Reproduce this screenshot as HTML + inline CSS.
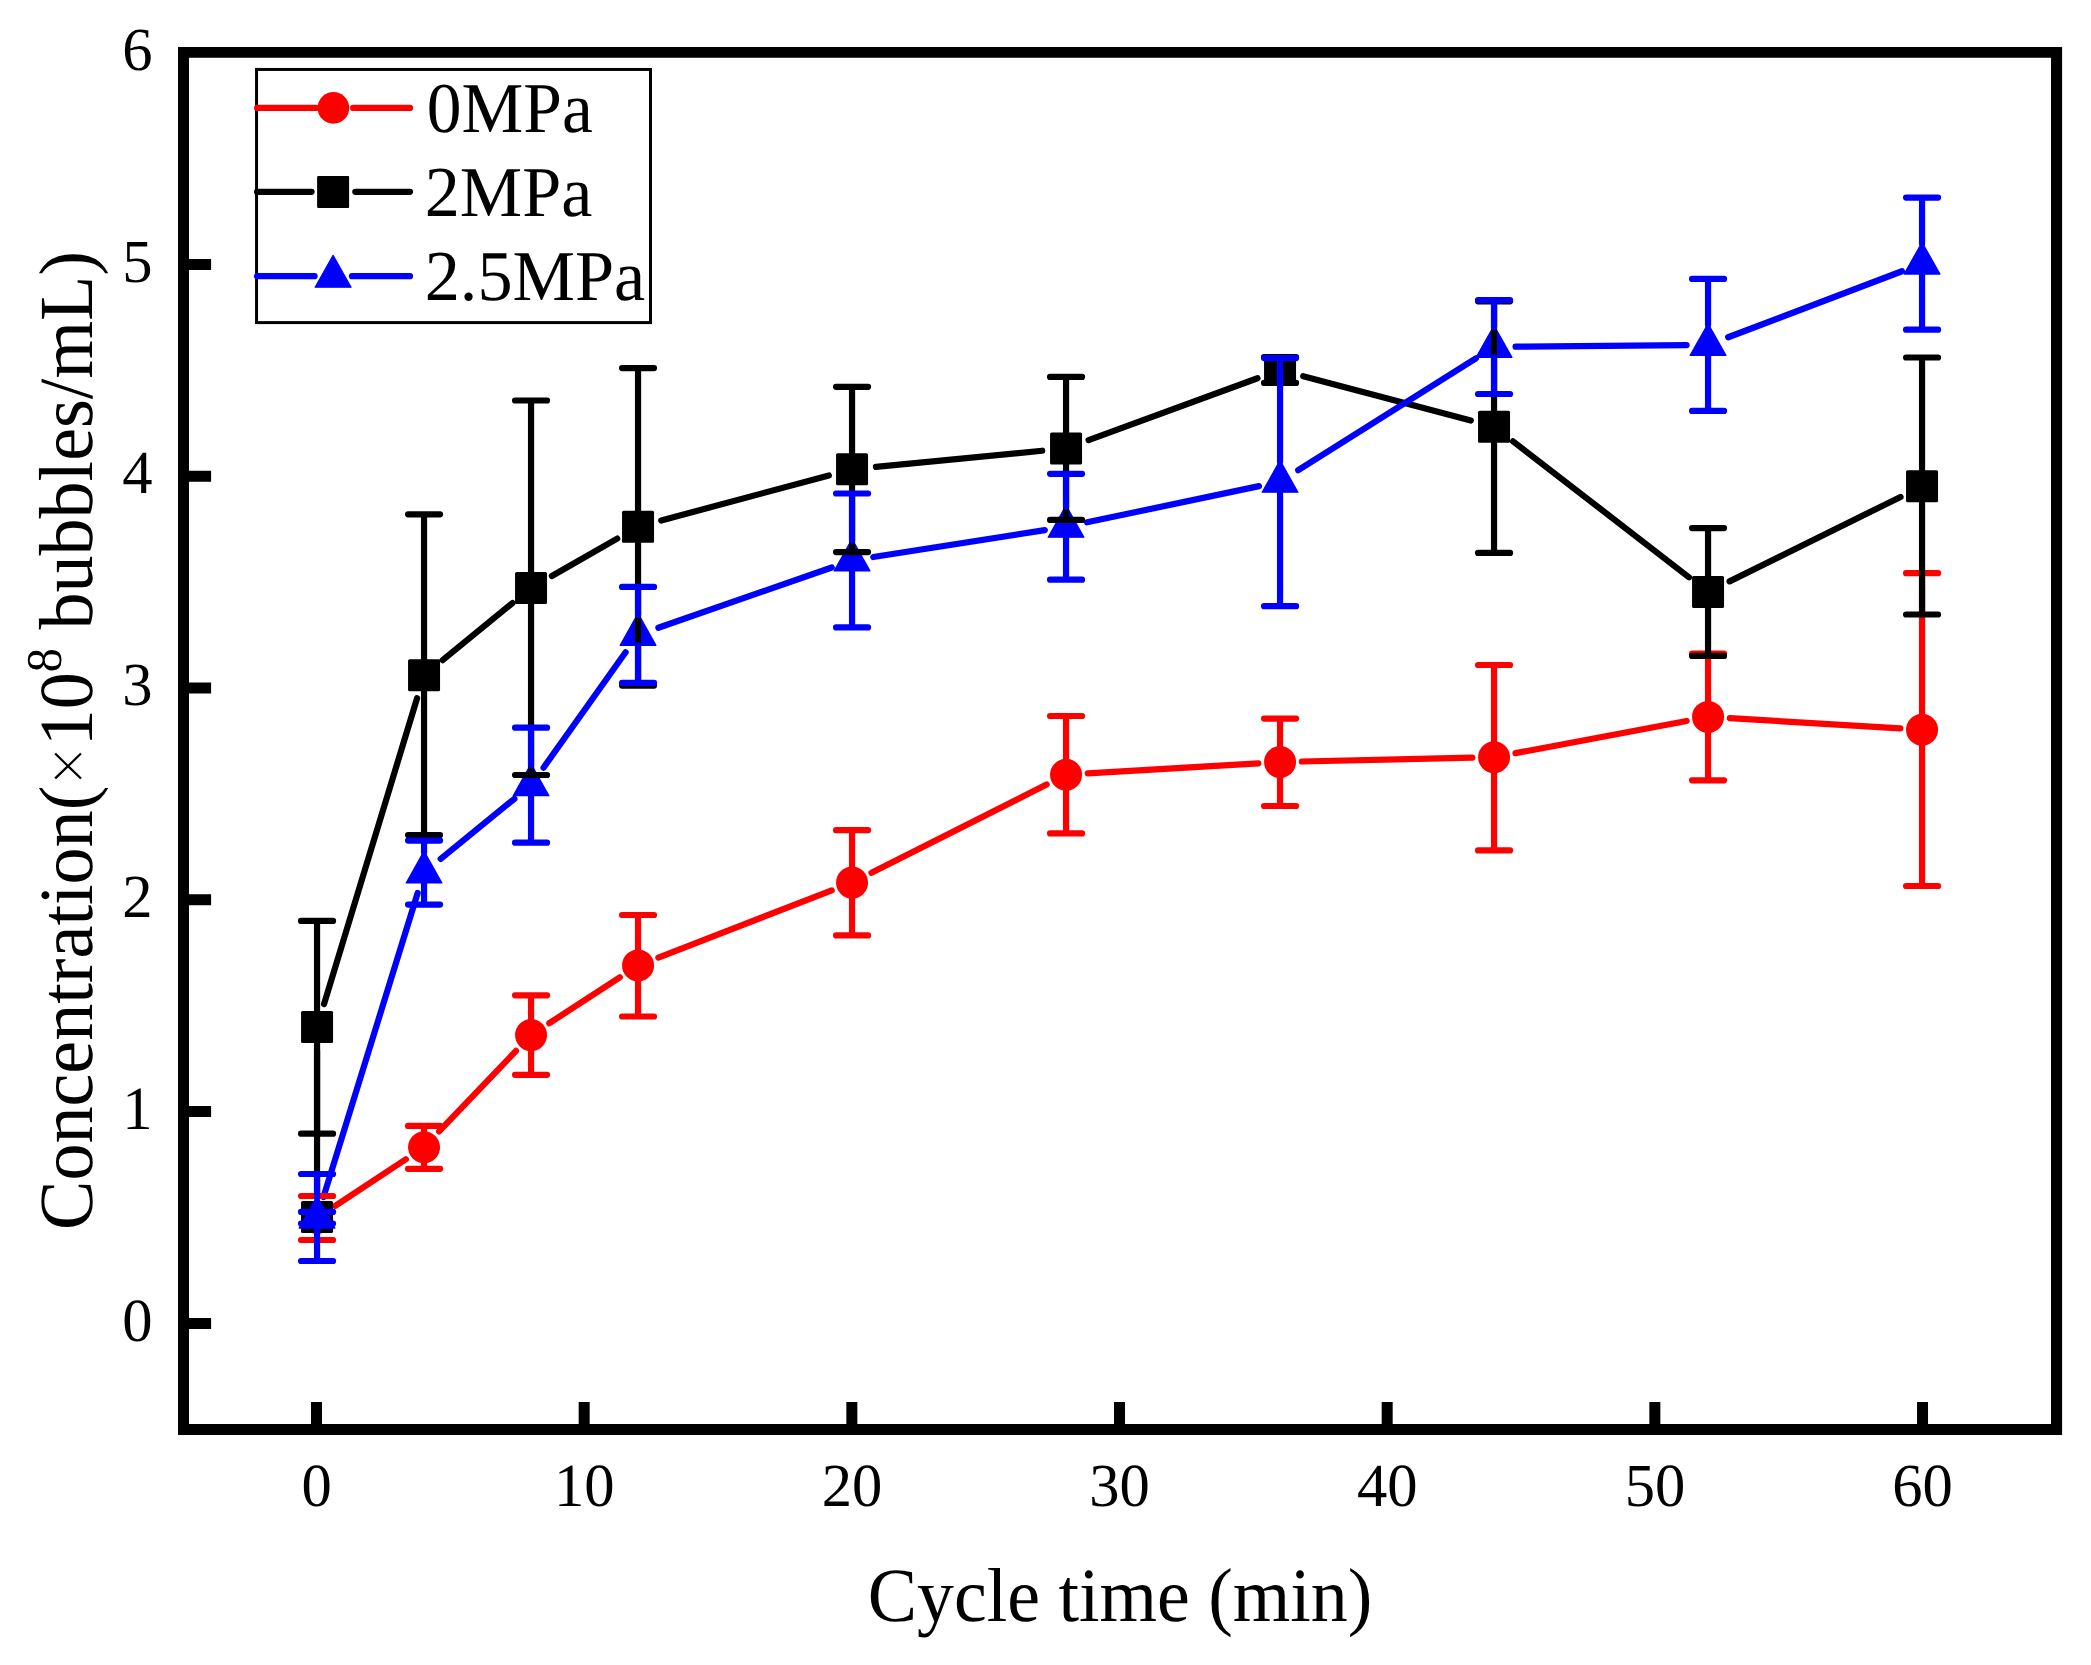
<!DOCTYPE html>
<html lang="en"><head><meta charset="utf-8"><title>Concentration vs cycle time</title>
<style>
html,body{margin:0;padding:0;background:#fff}
svg{display:block}
text{font-family:"Liberation Serif","Times New Roman",serif;fill:#000;text-rendering:geometricPrecision}
</style></head><body>
<svg width="2091" height="1665" viewBox="0 0 2091 1665">
<rect width="2091" height="1665" fill="#fff"/>
<path fill="#000" fill-rule="evenodd" d="M178 47H2062.1V1435H178ZM189 57.8H2051V1424H189Z"/>
<path d="M316.5 1401.9V1426M584.17 1401.9V1426M851.84 1401.9V1426M1119.51 1401.9V1426M1387.18 1401.9V1426M1654.85 1401.9V1426M1922.52 1401.9V1426M187 1323.4H211.1M187 1111.6H211.1M187 899.8H211.1M187 688H211.1M187 476.2H211.1M187 264.4H211.1" stroke="#000" stroke-width="11" fill="none"/>
<g id="series">
<path d="M335.24 1205.88L405.86 1159.22M439.1 1131.43L516 1050.87M549.32 1023.2L619.78 977.3M658.38 957.53L831.72 890.47M871.52 872.79L1046.58 784.51M1087.81 773.41L1258.29 763.29M1301.84 761.51L1472.26 757.69M1515.47 753.17L1686.63 720.93M1729.81 718.2L1900.29 728.4" stroke="#f00" stroke-width="6.2" stroke-linecap="round" fill="none"/>
<g fill="#f00"><circle cx="317.05" cy="1217.9" r="16"/><circle cx="424.05" cy="1147.2" r="16"/><circle cx="531.05" cy="1035.1" r="16"/><circle cx="638.05" cy="965.4" r="16"/><circle cx="852.05" cy="882.6" r="16"/><circle cx="1066.05" cy="774.7" r="16"/><circle cx="1280.05" cy="762" r="16"/><circle cx="1494.05" cy="757.2" r="16"/><circle cx="1708.05" cy="716.9" r="16"/><circle cx="1922.05" cy="729.7" r="16"/></g>
<path d="M317.05 1192.9L317.05 1051.1M324.03 1004.14L417.07 698.26M442.64 660.12L512.46 603.08M551.88 575.98L617.22 538.62M661.23 520.47L828.87 475.43M875.94 466.88L1042.16 450.72M1088.59 440.14L1257.51 378.26M1303.25 376.15L1470.85 420.55M1513.04 441.37L1689.06 577.33M1729.57 581.37L1900.53 496.93" stroke="#000" stroke-width="6.2" stroke-linecap="round" fill="none"/>
<g fill="#000"><rect x="301.05" y="1200.9" width="32" height="32" rx="1.5"/><rect x="301.05" y="1011.1" width="32" height="32" rx="1.5"/><rect x="408.05" y="659.3" width="32" height="32" rx="1.5"/><rect x="515.05" y="571.9" width="32" height="32" rx="1.5"/><rect x="622.05" y="510.7" width="32" height="32" rx="1.5"/><rect x="836.05" y="453.2" width="32" height="32" rx="1.5"/><rect x="1050.05" y="432.4" width="32" height="32" rx="1.5"/><rect x="1264.05" y="354" width="32" height="32" rx="1.5"/><rect x="1478.05" y="410.7" width="32" height="32" rx="1.5"/><rect x="1692.05" y="576" width="32" height="32" rx="1.5"/><rect x="1906.05" y="470.3" width="32" height="32" rx="1.5"/></g>
<path d="M323.42 1197.06L417.68 893.04M440.71 858.91L514.39 798.79M543.51 767.68L625.59 652.32M658.36 627.74L831.74 567.46M873.29 557.06L1044.81 530.09M1087.09 522.32L1259.01 486.13M1298.24 470.24L1475.86 358.36M1515.55 346.7L1686.55 345.1M1728.15 337.26L1901.95 271.24" stroke="#00f" stroke-width="6.2" stroke-linecap="round" fill="none"/>
<g fill="#00f" stroke="#00f" stroke-width="1.2" stroke-linejoin="round"><path d="M317.05 1196.2L334.95 1228.1H299.15Z"/><path d="M424.05 851.1L441.95 883H406.15Z"/><path d="M531.05 763.8L548.95 795.7H513.15Z"/><path d="M638.05 613.4L655.95 645.3H620.15Z"/><path d="M852.05 539L869.95 570.9H834.15Z"/><path d="M1066.05 505.35L1083.95 537.25H1048.15Z"/><path d="M1280.05 460.3L1297.95 492.2H1262.15Z"/><path d="M1494.05 325.5L1511.95 357.4H1476.15Z"/><path d="M1708.05 323.5L1725.95 355.4H1690.15Z"/><path d="M1922.05 242.2L1939.95 274.1H1904.15Z"/></g>
</g>
<g id="errors" fill="none" stroke-width="6.2" stroke-linecap="round">
<path stroke="#f00" d="M301.05 1196H333.05M301.05 1240H333.05M424.05 1125.9V1131.2M424.05 1163.2V1168.8M408.05 1125.9H440.05M408.05 1168.8H440.05M531.05 995.3V1019.1M531.05 1051.1V1074.8M515.05 995.3H547.05M515.05 1074.8H547.05M638.05 915V949.4M638.05 981.4V1016.5M622.05 915H654.05M622.05 1016.5H654.05M852.05 830.2V866.6M852.05 898.6V935.4M836.05 830.2H868.05M836.05 935.4H868.05M1066.05 716V758.7M1066.05 790.7V833.4M1050.05 716H1082.05M1050.05 833.4H1082.05M1280.05 718.6V746M1280.05 778V806M1264.05 718.6H1296.05M1264.05 806H1296.05M1494.05 665V741.2M1494.05 773.2V850.4M1478.05 665H1510.05M1478.05 850.4H1510.05M1708.05 653.5V700.9M1708.05 732.9V780.3M1692.05 653.5H1724.05M1692.05 780.3H1724.05M1922.05 573.2V713.7M1922.05 745.7V886M1906.05 573.2H1938.05M1906.05 886H1938.05"/>
<path stroke="#000" d="M317.05 920.9V1133.7M301.05 920.9H333.05M301.05 1133.7H333.05M424.05 514.3V835.05M408.05 514.3H440.05M408.05 835.05H440.05M531.05 400.5V775M515.05 400.5H547.05M515.05 775H547.05M638.05 368.1V685.6M622.05 368.1H654.05M622.05 685.6H654.05M852.05 386.8V552.1M836.05 386.8H868.05M836.05 552.1H868.05M1066.05 376.9V519.9M1050.05 376.9H1082.05M1050.05 519.9H1082.05M1280.05 357.2V382.9M1264.05 357.2H1296.05M1264.05 382.9H1296.05M1494.05 301.3V552.9M1478.05 301.3H1510.05M1478.05 552.9H1510.05M1708.05 528.1V655.9M1692.05 528.1H1724.05M1692.05 655.9H1724.05M1922.05 357.5V614.5M1906.05 357.5H1938.05M1906.05 614.5H1938.05"/>
<path stroke="#00f" d="M317.05 1174V1197.8M317.05 1228.3V1261M301.05 1174H333.05M301.05 1261H333.05M424.05 840.6V852.7M424.05 883.2V904.6M408.05 840.6H440.05M408.05 904.6H440.05M531.05 727.7V765.4M531.05 795.9V842.7M515.05 727.7H547.05M515.05 842.7H547.05M638.05 586.9V615M638.05 645.5V682.9M622.05 586.9H654.05M622.05 682.9H654.05M852.05 493.5V540.6M852.05 571.1V627.4M836.05 493.5H868.05M836.05 627.4H868.05M1066.05 473.8V506.95M1066.05 537.45V579.7M1050.05 473.8H1082.05M1050.05 579.7H1082.05M1280.05 358.1V461.9M1280.05 492.4V606.2M1264.05 358.1H1296.05M1264.05 606.2H1296.05M1494.05 300.2V327.1M1494.05 357.6V394M1478.05 300.2H1510.05M1478.05 394H1510.05M1708.05 278.9V325.1M1708.05 355.6V410.9M1692.05 278.9H1724.05M1692.05 410.9H1724.05M1922.05 197.6V243.8M1922.05 274.3V329.7M1906.05 197.6H1938.05M1906.05 329.7H1938.05M301.05 1211.9H333.05M301.05 1223.5H333.05"/>
</g>
<g id="legend">
<rect x="256.55" y="69.45" width="393.95" height="253.15" fill="#fff" stroke="#000" stroke-width="3"/>
<path d="M257 107.9H316M353.1 107.9H410" stroke="#f00" stroke-width="6.2" stroke-linecap="round" fill="none"/>
<path d="M257 191.8H311.6M355.3 191.8H410" stroke="#000" stroke-width="6.2" stroke-linecap="round" fill="none"/>
<path d="M257 276.2H314.6M352 276.2H410" stroke="#00f" stroke-width="6.2" stroke-linecap="round" fill="none"/>
<circle cx="333.4" cy="107.9" r="15.8" fill="#f00"/>
<rect x="317.1" y="175.9" width="32" height="32.1" rx="1" fill="#000"/>
<path d="M333.1 255.3L351.1 287.2H315.1Z" fill="#00f" stroke="#00f" stroke-width="1.2" stroke-linejoin="round"/>
<g font-size="71.6">
<text transform="translate(426.8 132) scale(0.9706 1)">0MPa</text>
<text transform="translate(424.7 216.1) scale(0.9796 1)">2MPa</text>
<text transform="translate(424.7 300.3) scale(0.981 1)">2.5MPa</text>
</g></g>
<g font-size="61.2" text-anchor="middle">
<text transform="translate(316.6 1506) scale(0.99 1)">0</text>
<text transform="translate(584.27 1506) scale(0.99 1)">10</text>
<text transform="translate(851.94 1506) scale(0.99 1)">20</text>
<text transform="translate(1119.61 1506) scale(0.99 1)">30</text>
<text transform="translate(1387.28 1506) scale(0.99 1)">40</text>
<text transform="translate(1654.95 1506) scale(0.99 1)">50</text>
<text transform="translate(1922.62 1506) scale(0.99 1)">60</text>
</g>
<g font-size="61.2" text-anchor="end">
<text transform="translate(152.5 1340.5) scale(0.99 1)">0</text>
<text transform="translate(152.5 1128.7) scale(0.99 1)">1</text>
<text transform="translate(152.5 916.9) scale(0.99 1)">2</text>
<text transform="translate(152.5 705.1) scale(0.99 1)">3</text>
<text transform="translate(152.5 493.3) scale(0.99 1)">4</text>
<text transform="translate(152.5 281.5) scale(0.99 1)">5</text>
<text transform="translate(152.5 69.7) scale(0.99 1)">6</text>
</g>
<text transform="translate(1120 1621) scale(0.9654 1)" font-size="76.5" text-anchor="middle">Cycle time (min)</text>
<text transform="translate(92 1230) rotate(-90) scale(0.9683 1)" font-size="76.5">Concentration(<tspan font-size="72" stroke="#fff" stroke-width="1.2">×</tspan>10<tspan font-size="50" dy="-31">8</tspan><tspan dy="31"> bubbles/mL)</tspan></text>
</svg>
</body></html>
